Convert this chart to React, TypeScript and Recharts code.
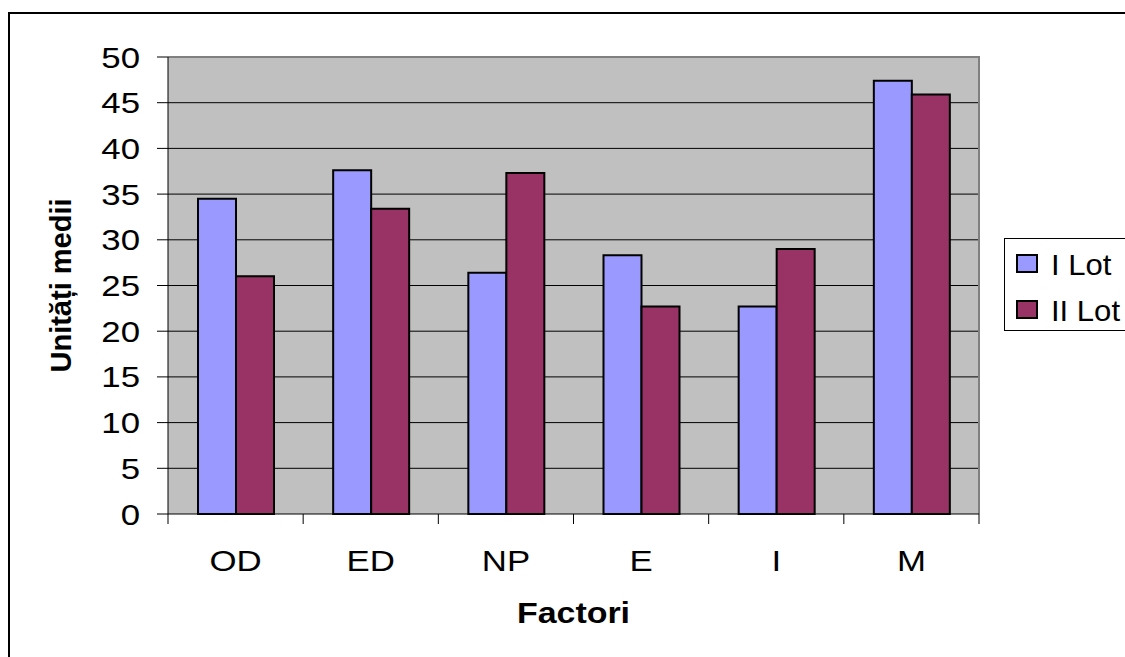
import React from 'react';
import { BarChart, Bar, XAxis, YAxis, CartesianGrid, ReferenceArea, Legend, Label } from 'recharts';

// Mean units per factor for the two groups
const factors = ['OD', 'ED', 'NP', 'E', 'I', 'M'];
const lotI = [34.5, 37.6, 26.4, 28.3, 22.7, 47.4];
const lotII = [26.0, 33.4, 37.3, 22.7, 29.0, 45.9];
const seriesNames = ['I Lot', 'II Lot'];
const seriesColors = ['#9999FF', '#993366'];

// Axis tick values
const valueTicks = [0, 5, 10, 15, 20, 25, 30, 35, 40, 45, 50];
const gridTicks = [5, 10, 15, 20, 25, 30, 35, 40, 45];

const data = factors.map((factor, i) => ({ factor, lot1: lotI[i], lot2: lotII[i] }));

const FONT = '"Liberation Sans", Arial, Helvetica, sans-serif';

const YTick = (props: any) => {
  const { x, y, payload } = props;
  return (
    <g transform={`translate(${x},${y}) scale(1.2,1)`}>
      <text x={0} y={0} dy={10.5} textAnchor="end" fontFamily={FONT} fontSize={29} fill="#000">
        {payload.value}
      </text>
    </g>
  );
};

// Category label plus tick marks on the band edges
const XTick = (props: any) => {
  const { x, y, payload, index } = props;
  const half = payload.offset ?? 0;
  const last = index === factors.length - 1;
  return (
    <g>
      <line x1={x - half} y1={y} x2={x - half} y2={y + 10} stroke="#000" />
      {last && <line x1={x + half} y1={y} x2={x + half} y2={y + 10} stroke="#000" />}
      <g transform={`translate(${x},${y}) scale(1.2,1)`}>
        <text x={0} y={0} dy={57} textAnchor="middle" fontFamily={FONT} fontSize={29} fill="#000">
          {payload.value}
        </text>
      </g>
    </g>
  );
};

const FactorLabel = (props: any) => {
  const { x, y, width } = props.viewBox;
  return (
    <g transform={`translate(${x + width / 2},${y + 109}) scale(1.17,1)`}>
      <text x={0} y={0} textAnchor="middle" fontFamily={FONT} fontSize={29} fontWeight="bold" fill="#000">
        Factori
      </text>
    </g>
  );
};

const UnitsLabel = (props: any) => {
  const { x, y, height } = props.viewBox;
  const cx = x - 47;
  const cy = y + height / 2;
  return (
    <text
      x={cx}
      y={cy}
      transform={`rotate(-90,${cx},${cy})`}
      textAnchor="middle"
      dominantBaseline="central"
      fontFamily={FONT}
      fontSize={29}
      fontWeight="bold"
      fill="#000"
    >
      Unități medii
    </text>
  );
};

// Top and right edges of the plot area
const PlotFrame = (props: any) => {
  const { x, y, width, height } = props;
  return <path d={`M${x},${y} H${x + width} V${y + height}`} fill="none" stroke="#808080" strokeWidth={2} />;
};

const LegendBox = () => (
  <div
    style={{
      position: 'relative',
      width: 140,
      height: 93,
      boxSizing: 'border-box',
      border: '1px solid #000',
      background: '#fff',
      fontFamily: FONT,
    }}
  >
    {seriesNames.map((name, i) => (
      <React.Fragment key={name}>
        <div
          style={{
            position: 'absolute',
            left: 11,
            top: 15 + i * 46,
            width: 22,
            height: 19,
            boxSizing: 'border-box',
            border: '2px solid #000',
            background: seriesColors[i],
          }}
        />
        <span
          style={{
            position: 'absolute',
            left: 46,
            top: 11.5 + i * 46,
            fontSize: 29,
            lineHeight: '29px',
            whiteSpace: 'nowrap',
            transform: 'scaleX(1.07)',
            transformOrigin: 'left center',
            color: '#000',
          }}
        >
          {name}
        </span>
      </React.Fragment>
    ))}
  </div>
);

export default function App() {
  return (
    <div
      style={{
        position: 'fixed',
        left: 0,
        top: 0,
        width: 1125,
        height: 657,
        overflow: 'hidden',
        background: '#fff',
      }}
    >
      <div
        style={{
          position: 'absolute',
          left: 8,
          top: 12,
          width: 1200,
          height: 700,
          border: '2px solid #000',
        }}
      />
      <div style={{ position: 'absolute', left: 0, top: 0 }}>
        <BarChart
          width={1125}
          height={657}
          data={data}
          margin={{ top: 57, right: 146, bottom: 33, left: 108 }}
          barGap={0}
          barSize={38}
        >
          <CartesianGrid vertical={false} horizontalValues={gridTicks} stroke="#000" fill="#C0C0C0" />
          <ReferenceArea y1={0} y2={50} shape={PlotFrame} ifOverflow="visible" />
          <XAxis
            dataKey="factor"
            height={110}
            interval={0}
            tickLine={false}
            axisLine={{ stroke: '#000' }}
            tickSize={0}
            tickMargin={0}
            tick={<XTick />}
          >
            <Label content={FactorLabel} />
          </XAxis>
          <YAxis
            domain={[0, 50]}
            ticks={valueTicks}
            interval={0}
            width={60}
            tickSize={11}
            tickMargin={17}
            tick={<YTick />}
            axisLine={{ stroke: '#000' }}
            tickLine={{ stroke: '#000' }}
          >
            <Label content={UnitsLabel} />
          </YAxis>
          <Bar dataKey="lot1" name={seriesNames[0]} fill={seriesColors[0]} stroke="#000" strokeWidth={2} isAnimationActive={false} />
          <Bar dataKey="lot2" name={seriesNames[1]} fill={seriesColors[1]} stroke="#000" strokeWidth={2} isAnimationActive={false} />
          <Legend
            layout="horizontal"
            verticalAlign="middle"
            align="center"
            content={LegendBox}
            wrapperStyle={{ left: 1004, top: 238, right: 'auto', bottom: 'auto', width: 140, height: 93 }}
          />
        </BarChart>
      </div>
    </div>
  );
}
